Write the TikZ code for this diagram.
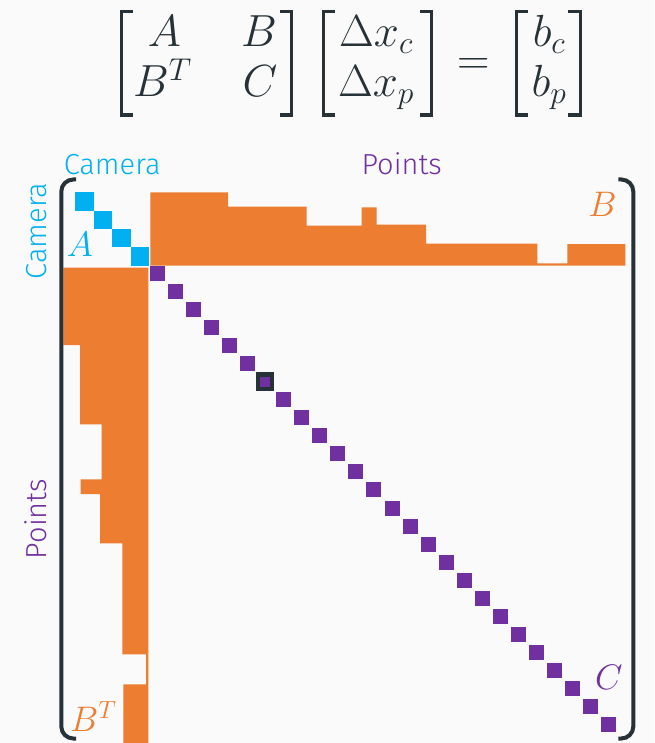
\RequirePackage{fix-cm}
\documentclass[tikz,border=0pt]{standalone}
\usepackage[no-math]{fontspec}
\setsansfont{Fira Sans}[UprightFont={* Light}]
\definecolor{bg}{HTML}{FAFAFA}
\definecolor{ink}{HTML}{263238}
\definecolor{cam}{HTML}{00B0F0}
\definecolor{pts}{HTML}{7030A0}
\definecolor{org}{HTML}{ED7D31}
\begin{document}
\begin{tikzpicture}[x=1pt,y=-1pt,
  eq/.style={inner sep=0pt, anchor=base, text=ink, font=\fontsize{45}{54}\selectfont},
  lbl/.style={inner sep=0pt, anchor=base, font=\sffamily\fontsize{29}{35}\selectfont},
  mlbl/.style={inner sep=0pt, anchor=base, font=\fontsize{35.5}{42}\selectfont},
  brk/.style={draw=ink, line width=3.2pt},
  frame/.style={draw=ink, line width=4pt, rounded corners=12pt},
  camsq/.style={fill=cam},
  ptsq/.style={fill=pts},
  blk/.style={fill=org}]
% background
\fill[bg] (0,0) rectangle (654,743);
\useasboundingbox (0,0) rectangle (654,743);

% equation
\node[eq] (eA) at (164.5,46.7) {$A$};
\node[eq] (eB) at (259,46.7) {$B$};
\node[eq] (eBT) at (162.5,96.7) {$B^T$};
\node[eq] (eC) at (260,96.7) {$C$};
\node[eq] (dxc) at (376,46.7) {$\Delta x_c$};
\node[eq] (dxp) at (376,96.7) {$\Delta x_p$};
\node[eq] (eqs) at (473.3,74.3) {$=$};
\node[eq] (bc) at (549,46.7) {$b_c$};
\node[eq] (bp) at (549,96.7) {$b_p$};
\draw[brk] (132.7,11.6) -- (121.6,11.6) -- (121.6,115.1) -- (132.7,115.1);
\draw[brk] (280,11.6) -- (291.1,11.6) -- (291.1,115.1) -- (280,115.1);
\draw[brk] (335,11.6) -- (323.3,11.6) -- (323.3,115.1) -- (335,115.1);
\draw[brk] (420,11.6) -- (431.7,11.6) -- (431.7,115.1) -- (420,115.1);
\draw[brk] (528.3,11.6) -- (516.6,11.6) -- (516.6,115.1) -- (528.3,115.1);
\draw[brk] (568.3,11.6) -- (580.1,11.6) -- (580.1,115.1) -- (568.3,115.1);

% B block
\fill[blk] (150.3,265.7) -- (150.3,192.3) -- (228,192.3) -- (228,206.7) -- (306.7,206.7)
  -- (306.7,225.5) -- (361.7,225.5) -- (361.7,207.3) -- (376.7,207.3) -- (376.7,224.5)
  -- (426,224.5) -- (426,243.5) -- (537.3,243.5) -- (537.3,263.3) -- (567.3,263.3)
  -- (567.3,244) -- (625.3,244) -- (625.3,265.7) -- cycle;
% B^T block
\fill[blk] (148.3,267.7) -- (63.3,267.7) -- (63.3,345) -- (80,345) -- (80,424.3)
  -- (101.7,424.3) -- (101.7,479.3) -- (80.7,479.3) -- (80.7,494) -- (100,494)
  -- (100,543.3) -- (122.3,543.3) -- (122.3,654.3) -- (146,654.3) -- (146,684.3)
  -- (123.3,684.3) -- (123.3,743) -- (148.3,743) -- cycle;

% frame brackets
\draw[frame] (76,179.5) -- (61.3,179.5) -- (61.3,738.5) -- (76,738.5);
\draw[frame] (618.3,179.5) -- (633.3,179.5) -- (633.3,738.5) -- (618.3,738.5);

% camera blocks
\foreach \k in {0,...,3}
  \fill[camsq] ({75+18.5*\k},{192.3+18.35*\k}) rectangle +(18.5,18.35);
% point blocks
\foreach \k in {0,...,5}
  \fill[ptsq] ({150+18.04*\k},{266+18.04*\k}) rectangle +(15,15);
\foreach \k in {7,...,25}
  \fill[ptsq] ({150+18.04*\k},{266+18.04*\k}) rectangle +(15,15);
\filldraw[draw=ink, fill=pts, line width=4.2pt] (257.9,374.5) rectangle +(14.2,14.2);

% labels
\node[lbl, text=cam] (camtop) at (112.2,175) {Camera};
\node[lbl, text=pts] (pttop) at (401.7,175) {Points};
\node[lbl, text=cam, rotate=90] (camleft) at (46.7,231) {Camera};
\node[lbl, text=pts, rotate=90] (ptleft) at (46.7,519) {Points};
\node[mlbl, text=cam] (lA) at (80,256.7) {$A$};
\node[mlbl, text=org] (lB) at (602.5,216) {$B$};
\node[mlbl, text=org] (lBT) at (93.3,731.7) {$B^T$};
\node[mlbl, text=pts] (lC) at (608.8,689) {$C$};
\end{tikzpicture}
\end{document}
